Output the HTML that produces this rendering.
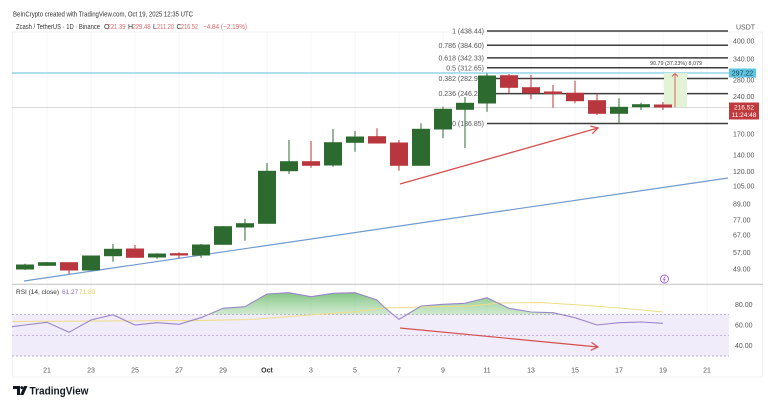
<!DOCTYPE html>
<html><head><meta charset="utf-8"><style>
html,body{margin:0;padding:0;background:#fff;}
svg{display:block;}
text{font-family:"Liberation Sans",sans-serif;}
</style></head><body>
<svg width="768" height="403" viewBox="0 0 768 403" xmlns="http://www.w3.org/2000/svg">
<defs>
<linearGradient id="gg" x1="0" y1="0" x2="0" y2="1">
<stop offset="0" stop-color="#6dbb6f" stop-opacity="0.85"/>
<stop offset="1" stop-color="#bfe3bd" stop-opacity="0.15"/>
</linearGradient>
<clipPath id="above70"><rect x="0" y="280" width="768" height="34.6"/></clipPath>
</defs>
<rect width="768" height="403" fill="#fff"/>
<!-- faint frame -->
<rect x="12.5" y="32" width="750" height="345" fill="none" stroke="#f0f0f0" stroke-width="1"/>
<g stroke="#f6f6f6" stroke-width="1">
<line x1="47" y1="32" x2="47" y2="362"/><line x1="91" y1="32" x2="91" y2="362"/><line x1="135" y1="32" x2="135" y2="362"/><line x1="179" y1="32" x2="179" y2="362"/><line x1="223" y1="32" x2="223" y2="362"/><line x1="267" y1="32" x2="267" y2="362"/><line x1="311" y1="32" x2="311" y2="362"/><line x1="355" y1="32" x2="355" y2="362"/><line x1="399" y1="32" x2="399" y2="362"/><line x1="443" y1="32" x2="443" y2="362"/><line x1="487" y1="32" x2="487" y2="362"/><line x1="531" y1="32" x2="531" y2="362"/><line x1="575" y1="32" x2="575" y2="362"/><line x1="619" y1="32" x2="619" y2="362"/><line x1="663" y1="32" x2="663" y2="362"/><line x1="707" y1="32" x2="707" y2="362"/>
</g>

<!-- header -->
<text x="13" y="16.5" font-size="7" fill="#333" textLength="180" lengthAdjust="spacingAndGlyphs">BeInCrypto created with TradingView.com, Oct 19, 2025 12:35 UTC</text>
<text x="16" y="29" font-size="7" fill="#333" textLength="84" lengthAdjust="spacingAndGlyphs">Zcash / TetherUS · 1D · Binance</text>
<text x="104" y="29" font-size="7" fill="#333">O</text>
<text x="107.5" y="29" font-size="7" fill="#e0686a" textLength="18" lengthAdjust="spacingAndGlyphs">221.39</text>
<text x="128" y="29" font-size="7" fill="#333">H</text>
<text x="132.5" y="29" font-size="7" fill="#e0686a" textLength="18" lengthAdjust="spacingAndGlyphs">229.48</text>
<text x="153" y="29" font-size="7" fill="#333">L</text>
<text x="157" y="29" font-size="7" fill="#e0686a" textLength="17" lengthAdjust="spacingAndGlyphs">211.20</text>
<text x="176.5" y="29" font-size="7" fill="#333">C</text>
<text x="181" y="29" font-size="7" fill="#e0686a" textLength="17" lengthAdjust="spacingAndGlyphs">216.52</text>
<text x="203" y="29" font-size="7" fill="#e0686a" textLength="44" lengthAdjust="spacingAndGlyphs">−4.84 (−2.19%)</text>

<!-- price lines -->
<line x1="12" y1="73" x2="729" y2="73" stroke="#5fbfdc" stroke-width="1.1"/>
<line x1="12" y1="107.5" x2="729" y2="107.5" stroke="#cfcfcf" stroke-width="0.8"/>

<!-- fib lines -->
<g stroke="#3c3c3c" stroke-width="1.5">
<line x1="487" y1="31" x2="728" y2="31"/>
<line x1="487" y1="45.3" x2="728" y2="45.3"/>
<line x1="487" y1="57.9" x2="728" y2="57.9"/>
<line x1="487" y1="67.8" x2="728" y2="67.8"/>
<line x1="487" y1="78.5" x2="728" y2="78.5"/>
<line x1="487" y1="93.6" x2="728" y2="93.6"/>
<line x1="487" y1="123.5" x2="728" y2="123.5"/>
</g>
<g font-size="7" fill="#555" text-anchor="end">
<text x="484" y="33.5">1 (438.44)</text>
<text x="484" y="47.8">0.786 (384.60)</text>
<text x="484" y="60.4">0.618 (342.33)</text>
<text x="484" y="70.3">0.5 (312.65)</text>
<text x="484" y="81">0.382 (282.94)</text>
<text x="484" y="96.1">0.236 (246.21)</text>
<text x="484" y="126">0 (186.85)</text>
</g>

<!-- trendline -->
<line x1="24" y1="281" x2="728" y2="178" stroke="#6f9bd1" stroke-width="1.2"/>

<!-- measure tool -->
<rect x="664" y="73" width="23" height="34" fill="#e2f3d6"/>
<line x1="675" y1="107" x2="675" y2="74" stroke="#d9534f" stroke-width="0.9"/>
<polyline points="672,76.5 675,73.5 678,76.5" fill="none" stroke="#d9534f" stroke-width="0.9"/>
<text x="650" y="65" font-size="5.5" fill="#444" textLength="52" lengthAdjust="spacingAndGlyphs">90.79 (37.23%) 8,079</text>

<!-- candles -->
<g stroke-width="1">
<g fill="#2c6a2f" stroke="#2c6a2f">
<line x1="25" y1="263.7" x2="25" y2="270"/><rect x="16.5" y="265" width="17" height="4"/>
<line x1="47" y1="262" x2="47" y2="266"/><rect x="38.5" y="262.7" width="17" height="2.6"/>
<line x1="91" y1="256" x2="91" y2="270.5"/><rect x="82.5" y="256" width="17" height="14"/>
<line x1="113" y1="244" x2="113" y2="261.7"/><rect x="104.5" y="249.3" width="17" height="6.4"/>
<line x1="157" y1="253.3" x2="157" y2="258.7"/><rect x="148.5" y="254" width="17" height="3"/>
<line x1="201" y1="244" x2="201" y2="257.7"/><rect x="192.5" y="245" width="17" height="10"/>
<line x1="223" y1="226" x2="223" y2="244.5"/><rect x="214.5" y="226.7" width="17" height="17.6"/>
<line x1="245" y1="218.7" x2="245" y2="240.7"/><rect x="236.5" y="223.7" width="17" height="3.3"/>
<line x1="267" y1="163" x2="267" y2="223.5"/><rect x="258.5" y="171.3" width="17" height="52"/>
<line x1="289" y1="140" x2="289" y2="174"/><rect x="280.5" y="161.7" width="17" height="9"/>
<line x1="333" y1="129" x2="333" y2="166.7"/><rect x="324.5" y="142.7" width="17" height="22.3"/>
<line x1="355" y1="131" x2="355" y2="151.7"/><rect x="346.5" y="137" width="17" height="5.3"/>
<line x1="421" y1="123.3" x2="421" y2="165.5"/><rect x="412.5" y="129.3" width="17" height="36"/>
<line x1="443" y1="106.7" x2="443" y2="138.3"/><rect x="434.5" y="109.3" width="17" height="19.7"/>
<line x1="465" y1="97" x2="465" y2="148"/><rect x="456.5" y="103.3" width="17" height="6"/>
<line x1="487" y1="73.5" x2="487" y2="111.7"/><rect x="478.5" y="76" width="17" height="27"/>
<line x1="619" y1="98.3" x2="619" y2="122.7"/><rect x="610.5" y="107.3" width="17" height="6"/>
<line x1="641" y1="102.7" x2="641" y2="110"/><rect x="632.5" y="104.7" width="17" height="2"/>
</g>
<g fill="#b8363d" stroke="#b8363d">
<line x1="69" y1="262.5" x2="69" y2="274"/><rect x="60.5" y="262.7" width="17" height="7.3"/>
<line x1="135" y1="245" x2="135" y2="257.5"/><rect x="126.5" y="249" width="17" height="8.3"/>
<line x1="179" y1="252.3" x2="179" y2="258.3"/><rect x="170.5" y="253.7" width="17" height="1.3"/>
<line x1="311" y1="141" x2="311" y2="167.7"/><rect x="302.5" y="161.7" width="17" height="3.6"/>
<line x1="377" y1="128.3" x2="377" y2="143.5"/><rect x="368.5" y="136.7" width="17" height="6.3"/>
<line x1="399" y1="140" x2="399" y2="170.7"/><rect x="390.5" y="143" width="17" height="22.3"/>
<line x1="509" y1="74" x2="509" y2="93.3"/><rect x="500.5" y="75.7" width="17" height="11.6"/>
<line x1="531" y1="75" x2="531" y2="99.3"/><rect x="522.5" y="87.7" width="17" height="5"/>
<line x1="553" y1="85" x2="553" y2="107.7"/><rect x="544.5" y="92" width="17" height="1.5"/>
<line x1="575" y1="80.7" x2="575" y2="103.3"/><rect x="566.5" y="93.3" width="17" height="7.4"/>
<line x1="597" y1="93.3" x2="597" y2="115"/><rect x="588.5" y="100.7" width="17" height="12.6"/>
<line x1="663" y1="102" x2="663" y2="110"/><rect x="654.5" y="105" width="17" height="2"/>
</g>
</g>

<!-- red arrow main -->
<g stroke="#d4504f" stroke-width="1.3" fill="none">
<line x1="400" y1="184" x2="598" y2="128"/>
<polyline points="590.3,126 598,128 592.4,133.7"/>
</g>

<!-- right axis -->
<g font-size="7" fill="#555">
<text x="736" y="29.5">USDT</text>
<text x="733" y="43.5">400.00</text>
<text x="733" y="61.5">340.00</text>
<text x="733" y="82.5">280.00</text>
<text x="733" y="99.2">240.00</text>
<text x="733" y="136.5">170.00</text>
<text x="733" y="157.5">140.00</text>
<text x="733" y="174.2">120.00</text>
<text x="733" y="188.5">105.00</text>
<text x="733" y="206.5">89.00</text>
<text x="733" y="222.5">77.00</text>
<text x="733" y="237.5">67.00</text>
<text x="733" y="255">57.00</text>
<text x="733" y="271.5">49.00</text>
</g>
<rect x="729" y="68.5" width="27" height="9" fill="#5ec4e0"/>
<text x="742.5" y="75.5" font-size="7" fill="#1d3d52" text-anchor="middle">297.22</text>
<rect x="729" y="102.5" width="30" height="17" fill="#c0393c"/>
<text x="744" y="109.5" font-size="6.5" fill="#fff" text-anchor="middle">216.52</text>
<text x="744" y="117" font-size="6.5" fill="#fff" text-anchor="middle">11:24:48</text>

<!-- lightning icon -->
<circle cx="664.5" cy="279" r="4" fill="#fff" stroke="#a66ad0" stroke-width="1"/>
<path d="M665.3,276.3 L663.3,279.3 L665,279.3 L663.8,281.8" fill="none" stroke="#a66ad0" stroke-width="0.8"/>

<!-- pane separator -->
<line x1="12" y1="284.3" x2="763" y2="284.3" stroke="#c4c4c4" stroke-width="1"/>

<!-- RSI pane -->
<rect x="12" y="314.6" width="717" height="41.4" fill="#f1ecf9"/>
<g stroke="#b7a6d3" stroke-width="0.9" stroke-dasharray="2,2">
<line x1="12" y1="314.6" x2="729" y2="314.6"/>
<line x1="12" y1="335.3" x2="729" y2="335.3"/>
<line x1="12" y1="356" x2="729" y2="356"/>
</g>
<path clip-path="url(#above70)" fill="url(#gg)" d="M12,326.7 L25,325 L47,322.3 L69,332.3 L91,320 L113,314.7 L135,325 L157,322.7 L179,324.3 L201,317.7 L223,308.3 L245,306.7 L267,294 L289,292.7 L311,296.7 L333,293.3 L355,292.7 L377,300 L384,307 L399,319.3 L421,306 L443,304.3 L465,303.3 L487,297.7 L509,308.3 L531,312 L553,312.7 L575,317.7 L597,325 L619,322.7 L641,322 L663,323.3 L663,314.6 L12,314.6 Z"/>
<polyline fill="none" stroke="#f0dc86" stroke-width="1" points="12,321.5 100,321 200,320.5 250,319.5 290,316.5 330,313.5 360,311.5 384,308 420,307 470,306 500,303 540,302.5 580,305 620,308 663,312"/>
<polyline fill="none" stroke="#9a86c8" stroke-width="1.1" points="12,326.7 25,325 47,322.3 69,332.3 91,320 113,314.7 135,325 157,322.7 179,324.3 201,317.7 223,308.3 245,306.7 267,294 289,292.7 311,296.7 333,293.3 355,292.7 377,300 384,307 399,319.3 421,306 443,304.3 465,303.3 487,297.7 509,308.3 531,312 553,312.7 575,317.7 597,325 619,322.7 641,322 663,323.3"/>
<g stroke="#d4504f" stroke-width="1.2" fill="none">
<line x1="400" y1="328" x2="598" y2="347"/>
<polyline points="591.5,342.4 598,347 590.7,350.3"/>
</g>
<text x="16" y="294" font-size="6.5" fill="#333">RSI (14, close)</text>
<text x="62" y="294" font-size="6.5" fill="#8e6cc4">61.27</text>
<text x="79" y="294" font-size="6.5" fill="#e8cf5a">71.80</text>
<g font-size="7" fill="#555">
<text x="735" y="306.8">80.00</text>
<text x="735" y="327.5">60.00</text>
<text x="735" y="348.2">40.00</text>
</g>

<!-- date axis -->
<g font-size="7" fill="#555" text-anchor="middle">
<text x="47" y="372.5">21</text><text x="91" y="372.5">23</text><text x="135" y="372.5">25</text><text x="179" y="372.5">27</text><text x="223" y="372.5">29</text>
<text x="267" y="372.5" font-weight="bold" fill="#333">Oct</text>
<text x="311" y="372.5">3</text><text x="355" y="372.5">5</text><text x="399" y="372.5">7</text><text x="443" y="372.5">9</text><text x="487" y="372.5">11</text><text x="531" y="372.5">13</text><text x="575" y="372.5">15</text><text x="619" y="372.5">17</text><text x="663" y="372.5">19</text><text x="707" y="372.5">21</text>
</g>

<!-- TradingView logo -->
<g fill="#131722">
<path d="M13,386 H20 V395 H17 V389 H13 Z"/>
<circle cx="21.8" cy="387.6" r="1.5"/>
<path d="M24,386 H27.5 L23.5,395 H20 Z"/>
</g>
<text x="29.5" y="394.5" font-size="11" font-weight="bold" fill="#131722" textLength="59" lengthAdjust="spacingAndGlyphs">TradingView</text>
</svg>
</body></html>
